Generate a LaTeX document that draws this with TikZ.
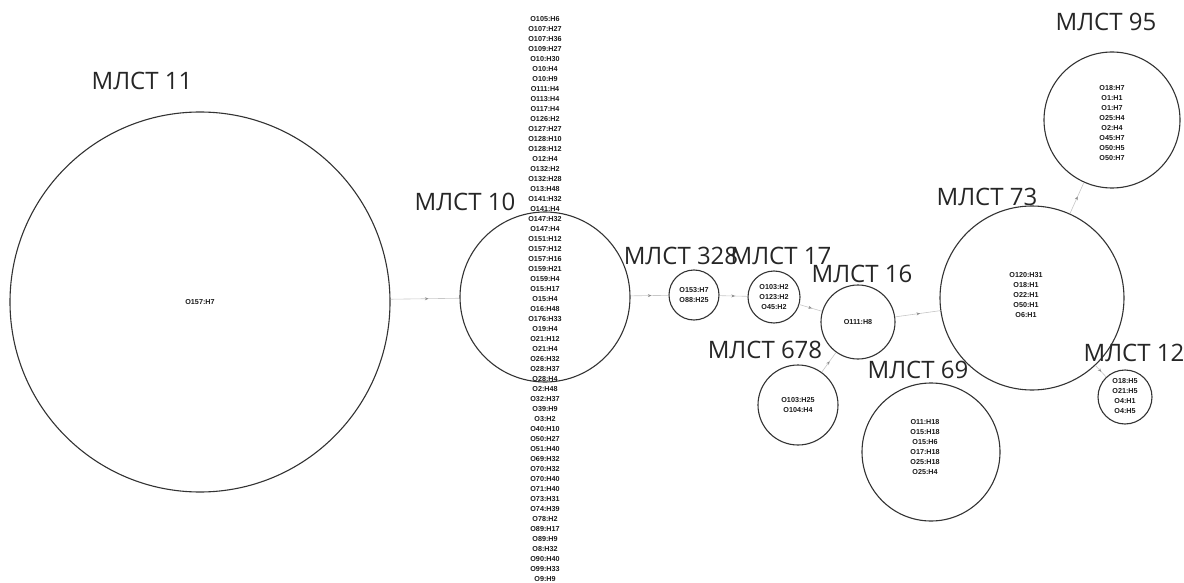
\documentclass[tikz,border=0pt]{standalone}
\usepackage{fontspec}
\setmainfont{Liberation Sans}
\newfontfamily\labfont{Open Sans}
\usetikzlibrary{arrows.meta,decorations.markings}
\begin{document}
\begin{tikzpicture}[x=1pt,y=-1pt,
  st/.style={circle,draw=black!80,line width=1.1pt,inner sep=0pt},
  lst/.style={align=center,inner sep=0pt,text=black!90,font=\bfseries\fontsize{7.2}{10}\selectfont},
  lab/.style={inner sep=0pt,font=\labfont\fontsize{24}{26}\selectfont,text=black!85},
  conn/.style={draw=black!22,line width=0.6pt,postaction={decorate},
    decoration={markings,mark=at position 0.55 with {\arrow[black!45]{Stealth[length=3.5pt,width=3pt]}}}}]
\useasboundingbox (0,0) rectangle (1184,583);
% circles
\node[st,minimum size=380pt] (c11) at (200,302) {};
\node[st,minimum size=170pt] (c10) at (545,297) {};
\node[st,minimum size=50pt] (c328) at (694,295) {};
\node[st,minimum size=52pt] (c17) at (774,297) {};
\node[st,minimum size=74pt] (c16) at (858,322) {};
\node[st,minimum size=80pt] (c678) at (798,405) {};
\node[st,minimum size=138pt] (c69) at (931,452) {};
\node[st,minimum size=184pt] (c73) at (1032,298) {};
\node[st,minimum size=136pt] (c95) at (1112,120) {};
\node[st,minimum size=54pt] (c12) at (1125,397) {};
% connectors
\draw[conn] (c11) -- (c10);
\draw[conn] (c10) -- (c328);
\draw[conn] (c328) -- (c17);
\draw[conn] (c17) -- (c16);
\draw[conn] (c678) -- (c16);
\draw[conn] (c16) -- (c73);
\draw[conn] (c73) -- (c95);
\draw[conn] (c73) -- (c12);
% labels
\node[lab] (l11) at (142,81) {МЛСТ 11};
\node[lab] (l10) at (465,202) {МЛСТ 10};
\node[lab] (l328) at (681,256) {МЛСТ 328};
\node[lab] (l17) at (781,256) {МЛСТ 17};
\node[lab] (l16) at (862,274) {МЛСТ 16};
\node[lab] (l678) at (765,350) {МЛСТ 678};
\node[lab] (l69) at (918,370) {МЛСТ 69};
\node[lab] (l73) at (987,197) {МЛСТ 73};
\node[lab] (l95) at (1106,22) {МЛСТ 95};
\node[lab] (l12) at (1134,353) {МЛСТ 12};
% contents
\node[lst] (t11) at (200,302) {O157:H7};
\node[lst] (t10) at (545,299) {O105:H6\\O107:H27\\O107:H36\\O109:H27\\O10:H30\\O10:H4\\O10:H9\\O111:H4\\O113:H4\\O117:H4\\O126:H2\\O127:H27\\O128:H10\\O128:H12\\O12:H4\\O132:H2\\O132:H28\\O13:H48\\O141:H32\\O141:H4\\O147:H32\\O147:H4\\O151:H12\\O157:H12\\O157:H16\\O159:H21\\O159:H4\\O15:H17\\O15:H4\\O16:H48\\O176:H33\\O19:H4\\O21:H12\\O21:H4\\O26:H32\\O28:H37\\O28:H4\\O2:H48\\O32:H37\\O39:H9\\O3:H2\\O40:H10\\O50:H27\\O51:H40\\O69:H32\\O70:H32\\O70:H40\\O71:H40\\O73:H31\\O74:H39\\O78:H2\\O89:H17\\O89:H9\\O8:H32\\O90:H40\\O99:H33\\O9:H9};
\node[lst] (t328) at (694,295) {O153:H7\\O88:H25};
\node[lst] (t17) at (774,297) {O103:H2\\O123:H2\\O45:H2};
\node[lst] (t16) at (858,322) {O111:H8};
\node[lst] (t678) at (798,405) {O103:H25\\O104:H4};
\node[lst] (t69) at (925,447) {O11:H18\\O15:H18\\O15:H6\\O17:H18\\O25:H18\\O25:H4};
\node[lst] (t73) at (1026,295) {O120:H31\\O18:H1\\O22:H1\\O50:H1\\O6:H1};
\node[lst] (t95) at (1112,123) {O18:H7\\O1:H1\\O1:H7\\O25:H4\\O2:H4\\O45:H7\\O50:H5\\O50:H7};
\node[lst] (t12) at (1125,396) {O18:H5\\O21:H5\\O4:H1\\O4:H5};
\end{tikzpicture}
\end{document}
